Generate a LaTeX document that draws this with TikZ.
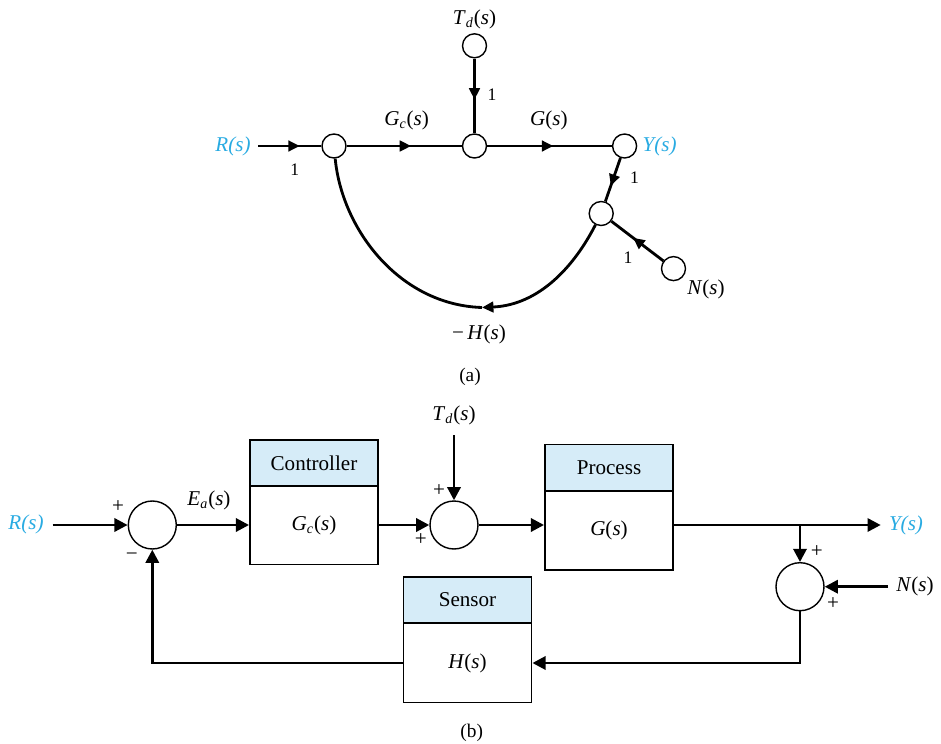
\documentclass[tikz,border=0pt]{standalone}
\usepackage{fontspec}
\setmainfont{Liberation Serif}
\usetikzlibrary{arrows.meta,decorations.markings}
\definecolor{sigblue}{HTML}{29ABE2}
\definecolor{headblue}{HTML}{D6ECF8}
\newcommand{\sig}[2]{\textit{#1}\textsubscript{\textit{#2}}(\textit{s})}
\newcommand{\fn}[1]{\textit{#1}(\textit{s})}

\begin{document}
\begin{tikzpicture}[x=0.02cm, y=-0.02cm, >={Triangle[length=7.5pt,width=7.5pt]}, line width=1.6pt,
  every node/.style={font=\fontsize{12}{14}\selectfont, inner sep=1pt},
  dot/.style={circle, draw, line width=0.8pt, fill=white, minimum size=0.48cm, inner sep=0pt},
  sum/.style={circle, draw, line width=0.8pt, fill=white, minimum size=0.96cm, inner sep=0pt},
  head/.style={draw, line width=1.1pt, fill=headblue, minimum width=2.56cm, minimum height=0.92cm, inner sep=0pt},
  body/.style={draw, line width=1.1pt, minimum width=2.56cm, minimum height=1.58cm, inner sep=0pt},
  small/.style={font=\fontsize{10}{12}\selectfont},
  midarrow/.style={postaction={decorate}, decoration={markings, mark=at position #1 with {\arrow{Triangle[length=6.5pt,width=6pt]}}}},
  midarrow/.default=0.55]
  \useasboundingbox (0,0) rectangle (941,744);
  \node[dot] (n1) at (334,146) {}; \node[dot] (n2) at (474.5,146) {}; \node[dot] (n3) at (624.6,146) {};
  \node[dot] (n4) at (474.5,45.8) {}; \node[dot] (n5) at (601.2,213.5) {}; \node[dot] (n6) at (673.5,268.6) {};
  \coordinate (rin) at (258,146); \coordinate (hb) at (482,307.5);
  \node[text=sigblue] (lr) at (233,146) {\textit{R(s)}}; \node[text=sigblue] (ly) at (659.7,146) {\textit{Y(s)}};
  \node (lgc) at (406.6,120.5) {\sig{G}{c}}; \node (lg) at (548.8,120.5) {\fn{G}};
  \node (ltd) at (474.5,19) {\sig{T}{d}}; \node (ln) at (706,289) {\fn{N}}; \node (lh) at (479,334) {−\,\fn{H}};
  \node[small] (l1) at (294.7,169.4) {1}; \node[small] (l2) at (492,94.7) {1};
  \node[small] (l3) at (634.6,178) {1}; \node[small] (l4) at (628,258) {1};
  \node[font=\fontsize{11}{13}\selectfont] (la) at (470,377) {(a)};
  \draw[midarrow=0.66] (rin) -- (n1); \draw[midarrow=0.56] (n1) -- (n2); \draw[midarrow=0.53] (n2) -- (n3);
  \draw[midarrow=0.55] (n4) -- (n2); \draw[midarrow=0.64] (n3) -- (n5); \draw[midarrow=0.58] (n6) -- (n5);
  \draw[-{Triangle[length=6.5pt,width=6pt]}] (n5) .. controls (575,265) and (540,305) .. (hb);
  \draw (hb) .. controls (400,305) and (342,230) .. (n1);

  \node[sum] (s1) at (152.3,525) {}; \node[sum] (s2) at (454,525) {}; \node[sum] (s3) at (800,586.7) {};
  \node[head] (ch) at (314,463) {Controller}; \node[body] (cb) at (314,525) {\sig{G}{c}};
  \node[head] (ph) at (609,467.5) {Process}; \node[body] (pb) at (609,530.5) {\fn{G}};
  \node[head] (sh) at (467.5,600) {Sensor}; \node[body] (sb) at (467.5,663) {\fn{H}};
  \node[text=sigblue] (br) at (26,524) {\textit{R(s)}}; \node[text=sigblue] (by) at (906,525) {\textit{Y(s)}};
  \node (bea) at (209,500) {\sig{E}{a}}; \node (btd) at (454,415) {\sig{T}{d}}; \node (bn) at (915,586) {\fn{N}};
  \coordinate (bin) at (52.7,525); \coordinate (tdin) at (454,435); \coordinate (yout) at (880.7,525);
  \coordinate (br3) at (800,525); \coordinate (nin) at (888,586.7);
  \node (p1) at (118,506.7) {+}; \node (m1) at (131.7,557) {−}; \node (p2) at (439,490.7) {+};
  \node (p3) at (420.7,540) {+}; \node (p4) at (816.7,551.7) {+}; \node (p5) at (833,604) {+};
  \node[font=\fontsize{11}{13}\selectfont] (lb) at (471.7,733) {(b)};
  \draw[->] (bin) -- (s1); \draw[->] (s1) -- (cb); \draw[->] (cb) -- (s2); \draw[->] (tdin) -- (s2);
  \draw[->] (s2) -- (s2 -| pb.west); \draw[->] (pb.east |- s2) -- (yout);
  \draw[->] (br3) -- (s3); \draw[->] (nin) -- (s3);
  \draw[->] (s3) |- (sb); \draw[->] (sb) -| (s1);
\end{tikzpicture}
\end{document}
